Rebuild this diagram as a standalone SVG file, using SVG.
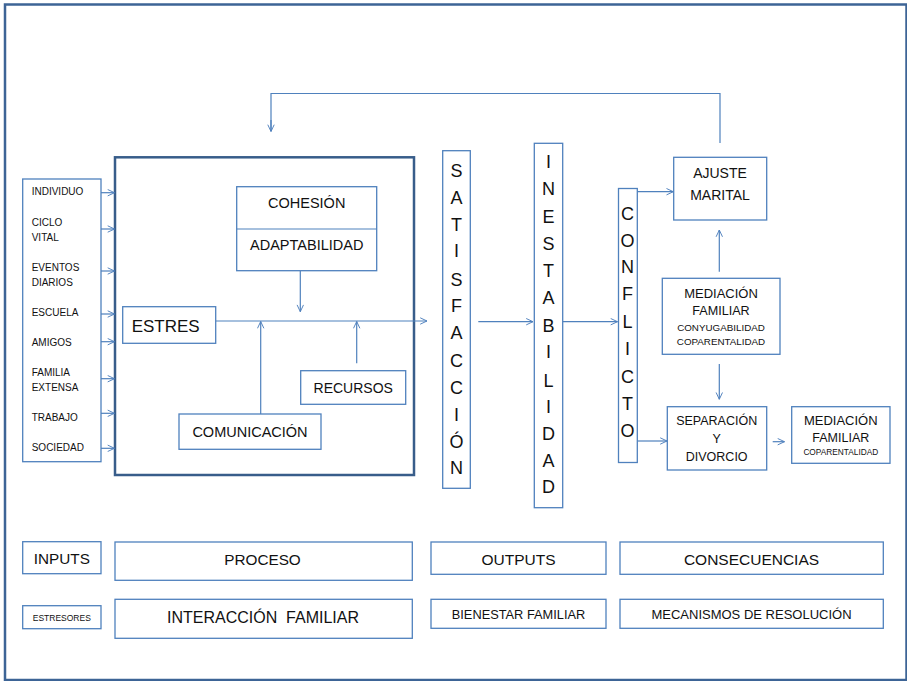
<svg xmlns="http://www.w3.org/2000/svg" width="907" height="681" viewBox="0 0 907 681">
<defs>
<marker id="ah" viewBox="0 0 10 10" refX="9.5" refY="5" markerWidth="8" markerHeight="8" markerUnits="userSpaceOnUse" orient="auto">
<path d="M1,1 L9.5,5 L1,9" fill="none" stroke="#4f81bd" stroke-width="1.2"/>
</marker>
<style>
.bx{fill:#fff;stroke:#4f81bd;stroke-width:1.3}
.big{fill:none;stroke:#385d8a;stroke-width:2.5}
.cn{fill:none;stroke:#4f81bd;stroke-width:1.2}
.ar{fill:none;stroke:#4f81bd;stroke-width:1.2;marker-end:url(#ah)}
text{font-family:"Liberation Sans",Arial,sans-serif;fill:#111}
.c{text-anchor:middle}
.in{font-size:10px}
.v{font-size:18px;text-anchor:middle}
</style>
</defs>
<rect x="5" y="4.5" width="901.5" height="675.5" fill="#fff" stroke="#3d6496" stroke-width="2.5"/>

<g id="proceso-frame">
<rect class="big" x="115" y="157.3" width="299" height="317.7"/>
</g>

<g id="connectors">
<polyline class="cn" points="720,143 720,93.5 271,93.5 271,131"/>
<line class="ar" x1="271" y1="120" x2="271" y2="131.5"/>
<line class="ar" x1="101" y1="192.7" x2="114.5" y2="192.7"/>
<line class="ar" x1="101" y1="229" x2="114.5" y2="229"/>
<line class="ar" x1="101" y1="271" x2="114.5" y2="271"/>
<line class="ar" x1="101" y1="314" x2="114.5" y2="314"/>
<line class="ar" x1="101" y1="341.7" x2="114.5" y2="341.7"/>
<line class="ar" x1="101" y1="378.7" x2="114.5" y2="378.7"/>
<line class="ar" x1="101" y1="413.3" x2="114.5" y2="413.3"/>
<line class="ar" x1="101" y1="448.3" x2="114.5" y2="448.3"/>
<line class="ar" x1="300.3" y1="270.7" x2="300.3" y2="311.7"/>
<line class="ar" x1="215.7" y1="321" x2="427" y2="321"/>
<line class="ar" x1="260.7" y1="414" x2="260.7" y2="321.5"/>
<line class="ar" x1="356.7" y1="363.3" x2="356.7" y2="321.5"/>
<line class="ar" x1="478.3" y1="321.7" x2="533" y2="321.7"/>
<line class="ar" x1="562.7" y1="321.7" x2="617.5" y2="321.7"/>
<line class="ar" x1="637.3" y1="191.7" x2="673.3" y2="191.7"/>
<line class="ar" x1="719.3" y1="271.7" x2="719.3" y2="230"/>
<line class="ar" x1="719.3" y1="364" x2="719.3" y2="399.3"/>
<line class="ar" x1="637.3" y1="441" x2="667" y2="441"/>
<line class="ar" x1="772.7" y1="441.7" x2="784.5" y2="441.7"/>
</g>

<g id="inputs">
<rect class="bx" x="22.7" y="179" width="78.3" height="282.7"/>
<text class="in" x="31.7" y="195">INDIVIDUO</text>
<text class="in" x="31.7" y="225.5">CICLO</text>
<text class="in" x="31.7" y="240.5">VITAL</text>
<text class="in" x="31.7" y="270.5">EVENTOS</text>
<text class="in" x="31.7" y="285.5">DIARIOS</text>
<text class="in" x="31.7" y="315.5">ESCUELA</text>
<text class="in" x="31.7" y="345.5">AMIGOS</text>
<text class="in" x="31.7" y="376">FAMILIA</text>
<text class="in" x="31.7" y="391">EXTENSA</text>
<text class="in" x="31.7" y="420.7">TRABAJO</text>
<text class="in" x="31.7" y="450.7">SOCIEDAD</text>
</g>

<g id="cohesion">
<rect class="bx" x="236.7" y="186.7" width="140" height="84"/>
<line class="cn" x1="236.7" y1="229" x2="376.7" y2="229" stroke="#95b3d7"/>
<text class="c" x="306.7" y="207.5" font-size="14.5">COHESIÓN</text>
<text class="c" x="306.7" y="249.5" font-size="14.5">ADAPTABILIDAD</text>
</g>

<g id="estres">
<rect class="bx" x="122.7" y="306.7" width="93" height="36.6"/>
<text x="131.7" y="331.7" font-size="17">ESTRES</text>
</g>

<g id="comunicacion">
<rect class="bx" x="179" y="414" width="142" height="35.3"/>
<text class="c" x="250" y="436.5" font-size="14.5">COMUNICACIÓN</text>
</g>

<g id="recursos">
<rect class="bx" x="300.7" y="370.7" width="105" height="33.6"/>
<text class="c" x="353.2" y="392.5" font-size="14">RECURSOS</text>
</g>

<g id="satisfaccion">
<rect class="bx" x="442.7" y="150.7" width="27.6" height="337.6"/>
<text class="v" x="456.5" y="176.7">S</text>
<text class="v" x="456.5" y="204">A</text>
<text class="v" x="456.5" y="230.7">T</text>
<text class="v" x="456.5" y="257.3">I</text>
<text class="v" x="456.5" y="285.7">S</text>
<text class="v" x="456.5" y="311.7">F</text>
<text class="v" x="456.5" y="339">A</text>
<text class="v" x="456.5" y="366.7">C</text>
<text class="v" x="456.5" y="394">C</text>
<text class="v" x="456.5" y="420.7">I</text>
<text class="v" x="456.5" y="448.3">Ó</text>
<text class="v" x="456.5" y="474">N</text>
</g>

<g id="inestabilidad">
<rect class="bx" x="534.3" y="143.3" width="28.4" height="364.4"/>
<text class="v" x="548.5" y="168.3">I</text>
<text class="v" x="548.5" y="195">N</text>
<text class="v" x="548.5" y="223.3">E</text>
<text class="v" x="548.5" y="250">S</text>
<text class="v" x="548.5" y="276.7">T</text>
<text class="v" x="548.5" y="304">A</text>
<text class="v" x="548.5" y="331.7">B</text>
<text class="v" x="548.5" y="358.3">I</text>
<text class="v" x="548.5" y="386.7">L</text>
<text class="v" x="548.5" y="413.3">I</text>
<text class="v" x="548.5" y="440">D</text>
<text class="v" x="548.5" y="466.7">A</text>
<text class="v" x="548.5" y="493.3">D</text>
</g>

<g id="conflicto">
<rect class="bx" x="618.5" y="188.5" width="18.8" height="274"/>
<text class="v" x="627.5" y="220">C</text>
<text class="v" x="627.5" y="246.7">O</text>
<text class="v" x="627.5" y="273.3">N</text>
<text class="v" x="627.5" y="300">F</text>
<text class="v" x="627.5" y="328.3">L</text>
<text class="v" x="627.5" y="355">I</text>
<text class="v" x="627.5" y="383.3">C</text>
<text class="v" x="627.5" y="410">T</text>
<text class="v" x="627.5" y="436.7">O</text>
</g>

<g id="ajuste">
<rect class="bx" x="673.7" y="157.3" width="93" height="62.7"/>
<text class="c" x="720" y="177.7" font-size="14">AJUSTE</text>
<text class="c" x="720" y="200" font-size="14">MARITAL</text>
</g>

<g id="mediacion1">
<rect class="bx" x="662.3" y="278.3" width="117.7" height="76"/>
<text class="c" x="721" y="297.5" font-size="13">MEDIACIÓN</text>
<text class="c" x="721" y="315" font-size="12.6">FAMILIAR</text>
<text class="c" x="721" y="330.7" font-size="9.8">CONYUGABILIDAD</text>
<text class="c" x="721" y="345" font-size="9.8">COPARENTALIDAD</text>
</g>

<g id="separacion">
<rect class="bx" x="667.3" y="406.7" width="99.4" height="63.3"/>
<text class="c" x="716.7" y="425" font-size="12.5">SEPARACIÓN</text>
<text class="c" x="716.7" y="443.3" font-size="12.5">Y</text>
<text class="c" x="716.7" y="460.7" font-size="12.5">DIVORCIO</text>
</g>

<g id="mediacion2">
<rect class="bx" x="791.7" y="406.7" width="98.3" height="56.6"/>
<text class="c" x="840.8" y="425" font-size="13">MEDIACIÓN</text>
<text class="c" x="840.8" y="441.7" font-size="12.5">FAMILIAR</text>
<text class="c" x="840.8" y="455" font-size="8.3">COPARENTALIDAD</text>
</g>

<g id="legend-inputs">
<rect class="bx" x="22.7" y="541.7" width="78.3" height="32"/>
<text class="c" x="61.8" y="564.3" font-size="15.3">INPUTS</text>
</g>
<g id="legend-proceso">
<rect class="bx" x="115" y="542" width="297.3" height="38.3"/>
<text class="c" x="262.5" y="565.3" font-size="15.3">PROCESO</text>
</g>
<g id="legend-outputs">
<rect class="bx" x="431" y="542" width="175" height="32.3"/>
<text class="c" x="518.5" y="565" font-size="15.5">OUTPUTS</text>
</g>
<g id="legend-consecuencias">
<rect class="bx" x="620" y="542" width="263.3" height="32.3"/>
<text class="c" x="751.5" y="565" font-size="15.5">CONSECUENCIAS</text>
</g>
<g id="legend-estresores">
<rect class="bx" x="22.7" y="605.7" width="78.3" height="23"/>
<text class="c" x="61.8" y="620.7" font-size="8.5">ESTRESORES</text>
</g>
<g id="legend-interaccion">
<rect class="bx" x="115" y="599.3" width="297.3" height="39"/>
<text class="c" x="263" y="623" font-size="16" xml:space="preserve">INTERACCIÓN  FAMILIAR</text>
</g>
<g id="legend-bienestar">
<rect class="bx" x="431" y="599.3" width="175" height="29"/>
<text class="c" x="518.5" y="619" font-size="12.8">BIENESTAR FAMILIAR</text>
</g>
<g id="legend-mecanismos">
<rect class="bx" x="620" y="599.3" width="263.3" height="29"/>
<text class="c" x="751.5" y="619" font-size="13">MECANISMOS DE RESOLUCIÓN</text>
</g>
</svg>
